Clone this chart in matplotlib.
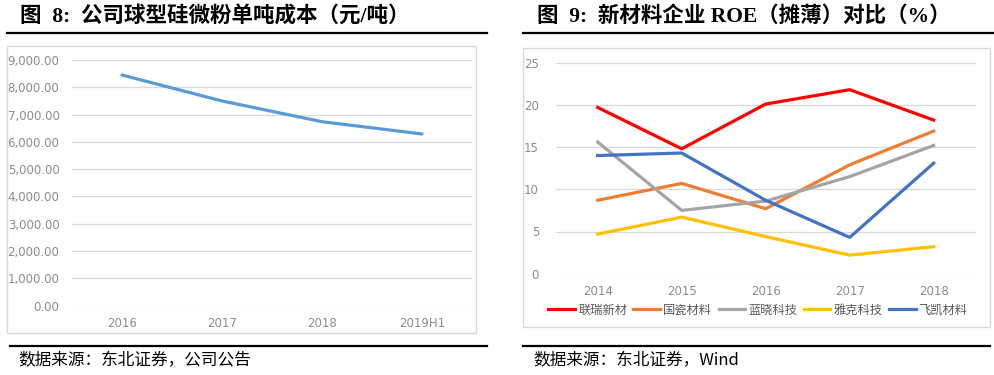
import matplotlib
matplotlib.use("Agg")
import matplotlib.pyplot as plt
from matplotlib.patches import Rectangle
from matplotlib.lines import Line2D

plt.rcParams['font.family'] = ['Noto Sans CJK SC', 'DejaVu Sans']

# ---- data ----
cost_years = ["2016", "2017", "2018", "2019H1"]
cost_values = [8450, 7500, 6740, 6290]
cost_ticks = [0, 1000, 2000, 3000, 4000, 5000, 6000, 7000, 8000, 9000]

roe_years = ["2014", "2015", "2016", "2017", "2018"]
roe_names = ["联瑞新材", "国瓷材料", "蓝晓科技", "雅克科技", "飞凯材料"]
roe_lianrui = [19.7, 14.8, 20.1, 21.8, 18.2]
roe_guoci = [8.7, 10.7, 7.7, 12.9, 16.9]
roe_lanxiao = [15.6, 7.5, 8.6, 11.5, 15.2]
roe_yake = [4.7, 6.7, 4.4, 2.2, 3.2]
roe_feikai = [14.0, 14.3, 8.7, 4.3, 13.1]
roe_ticks = [0, 5, 10, 15, 20, 25]

title_left = "图  8:  公司球型硅微粉单吨成本（元/吨）"
title_right = "图  9:  新材料企业 ROE（摊薄）对比（%）"
source_left = "数据来源：东北证券，公司公告"
source_right = "数据来源：东北证券，Wind"

W, H = 994, 375
fig = plt.figure(figsize=(W / 100, H / 100), dpi=100)

def fx(x):
    return x / W

def fy(y):
    return 1 - y / H

grid_c = "#D9D9D9"
tick_c = "#8C8C8C"

# frames
for (x0, y0, x1, y1) in [(7, 46, 476, 333), (523, 48, 990, 327)]:
    fig.patches.append(Rectangle((fx(x0), fy(y1)), fx(x1 - x0), (y1 - y0) / H,
                                 transform=fig.transFigure, fill=False,
                                 edgecolor="#D9D9D9", linewidth=1.0))

# title lines and source lines
for (x0, x1, y) in [(7, 487, 33), (523, 994, 33), (10, 487, 345.5), (523, 990, 345.5)]:
    fig.add_artist(Line2D([fx(x0), fx(x1)], [fy(y), fy(y)], transform=fig.transFigure,
                          color="black", linewidth=1.6))

title_fam = ['Liberation Serif', 'Noto Sans CJK SC']
fig.text(fx(20), fy(17), title_left, fontsize=15.5, fontweight='bold', family=title_fam,
         va='center', ha='left')
fig.text(fx(537), fy(17), title_right, fontsize=15.5, fontweight='bold', family=title_fam,
         va='center', ha='left')
fig.text(fx(18), fy(361), source_left, fontsize=12, family=['Noto Sans CJK SC'],
         va='center', ha='left')
fig.text(fx(533), fy(361), source_right, fontsize=12,
         family=['Noto Sans CJK SC', 'Liberation Serif'], va='center', ha='left')

# ---- left chart ----
ax1 = fig.add_axes([fx(72), fy(305.7), fx(400), 245.7 / H])
xs = list(range(len(cost_years)))
ax1.plot(xs, cost_values, color="#5B9BD5", linewidth=2.3, solid_capstyle='round')
ax1.set_xlim(-0.5, len(cost_years) - 0.5)
ax1.set_ylim(0, 9000)
ax1.set_yticks(cost_ticks)
ax1.set_yticklabels([f"{v:,.2f}" for v in cost_ticks])
ax1.set_xticks(xs)
ax1.set_xticklabels(cost_years)
ax1.grid(axis='y', color=grid_c, linewidth=0.9)
ax1.set_axisbelow(True)
for s in ax1.spines.values():
    s.set_visible(False)
ax1.tick_params(length=0, colors=tick_c, labelsize=8.5)
ax1.tick_params(axis='y', pad=9)
ax1.tick_params(axis='x', pad=8)
for lab in ax1.get_xticklabels() + ax1.get_yticklabels():
    lab.set_family(['DejaVu Sans'])

# ---- right chart ----
ax2 = fig.add_axes([fx(555.7), fy(273.7), fx(420), 211 / H])
rx = list(range(len(roe_years)))
series = [roe_lianrui, roe_guoci, roe_lanxiao, roe_yake, roe_feikai]
colors = ["#FF0000", "#ED7D31", "#A5A5A5", "#FFC000", "#4472C4"]
for name, vals, c in zip(roe_names, series, colors):
    ax2.plot(rx, vals, color=c, linewidth=2.3, label=name)
ax2.set_xlim(-0.5, len(roe_years) - 0.5)
ax2.set_ylim(0, 25)
ax2.set_yticks(roe_ticks)
ax2.set_xticks(rx)
ax2.set_xticklabels(roe_years)
ax2.grid(axis='y', color=grid_c, linewidth=0.9)
ax2.set_axisbelow(True)
for s in ax2.spines.values():
    s.set_visible(False)
ax2.tick_params(length=0, colors=tick_c, labelsize=8.5)
ax2.tick_params(axis='y', pad=12)
ax2.tick_params(axis='x', pad=8)
for lab in ax2.get_xticklabels() + ax2.get_yticklabels():
    lab.set_family(['DejaVu Sans'])
leg = ax2.legend(loc='center', bbox_to_anchor=(fx(758), fy(310)), bbox_transform=fig.transFigure,
                 ncol=5, frameon=False, fontsize=8.8, handlelength=2.2, handletextpad=0.25,
                 columnspacing=0.5, borderpad=0)
for t in leg.get_texts():
    t.set_color("#595959")

fig.savefig("out.png", dpi=100)
